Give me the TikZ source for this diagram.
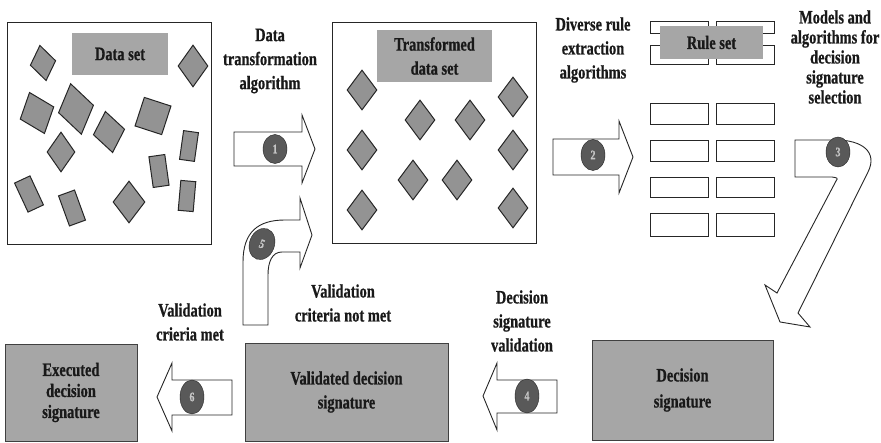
\documentclass[tikz,border=0pt]{standalone}
\usepackage{fontspec}
\newfontfamily\lbl[FakeStretch=0.76,FakeBold=0.7]{Liberation Serif}
\usetikzlibrary{shapes.geometric}
\begin{document}
\begin{tikzpicture}[x=1pt,y=-1pt,
  frame/.style={draw=black!85,line width=0.9pt},
  lab/.style={font=\lbl\bfseries\fontsize{19}{24}\selectfont,align=center,inner sep=0,text=black!90},
  tag/.style={lab,fill=gray!70},
  dia/.style={diamond,draw=black!85,fill=gray!85,line width=1pt,inner sep=0},
  tile/.style={rectangle,draw=black!85,fill=gray!85,line width=1pt,inner sep=0},
  barrow/.style={draw=black!85,line width=0.9pt,fill=white,line join=miter},
  num/.style={ellipse,draw=black!85,fill=black!65,text=gray!45,inner sep=0,font=\lbl\bfseries\fontsize{13}{13}\selectfont},
  rulebox/.style={draw=black!85,line width=0.9pt,fill=white,minimum width=58,inner sep=0}
]
\useasboundingbox (0,0) rectangle (881,443);

% ---- container 1
\node[frame,minimum width=204,minimum height=222] (box1) at (109,133) {};
\node[tag,minimum width=96,minimum height=42] (ds) at (120,54) {Data set};
\node[dia,minimum width=26,minimum height=36,rotate=10] (a1) at (43,63) {};
\node[dia,minimum width=30,minimum height=42] (a2) at (193,66) {};
\node[dia,minimum width=36,minimum height=44,rotate=20] (a3) at (37,113) {};
\node[dia,minimum width=36,minimum height=52,rotate=12] (a4) at (76,109) {};
\node[tile,minimum width=28,minimum height=30,rotate=-18] (a5) at (153,116) {};
\node[dia,minimum width=32,minimum height=42,rotate=10] (a6) at (109,132) {};
\node[dia,minimum width=28,minimum height=40] (a7) at (61,152) {};
\node[tile,minimum width=15,minimum height=29,rotate=-8] (a8) at (189,146) {};
\node[tile,minimum width=16,minimum height=31,rotate=8] (a9) at (159,171) {};
\node[tile,minimum width=17,minimum height=32,rotate=25] (a10) at (29,194) {};
\node[tile,minimum width=17,minimum height=32,rotate=20] (a11) at (72,208) {};
\node[dia,minimum width=32,minimum height=42] (a12) at (129,202) {};
\node[tile,minimum width=15,minimum height=30,rotate=-5] (a13) at (187,196) {};

% ---- container 2
\node[frame,minimum width=204,minimum height=221] (box2) at (434,132.5) {};
\node[tag,minimum width=115,minimum height=52] (tds) at (434.5,56) {Transformed\\data set};
\foreach \p/\q [count=\i] in {362/90,362/150,362/210,420/120,470/120,513/97,513/150,413/180,457/180,513/208}
  \node[dia,minimum width=30,minimum height=40] (b\i) at (\p,\q) {};

% ---- rule set
\foreach \c/\s in {679/L,745/R}{
  \node[rulebox,minimum height=12] (rA\s) at (\c,27) {};
  \node[rulebox,minimum height=19] (rB\s) at (\c,54.5) {};
  \node[rulebox,minimum height=21] (r1\s) at (\c,113.5) {};
  \node[rulebox,minimum height=21] (r2\s) at (\c,150.5) {};
  \node[rulebox,minimum height=20] (r3\s) at (\c,187) {};
  \node[rulebox,minimum height=23] (r4\s) at (\c,224.5) {};
}
\node[tag,minimum width=103,minimum height=33] (rs) at (711.5,42.5) {Rule set};

% ---- bottom boxes
\node[tag,draw=black!75,line width=0.9pt,minimum width=132,minimum height=97,font=\lbl\bfseries\fontsize{19}{21}\selectfont] (exe) at (71,392.5) {Executed\\decision\\signature};
\node[tag,draw=black!75,line width=0.9pt,minimum width=203,minimum height=98] (val) at (346.5,392) {Validated decision\\signature};
\node[tag,draw=black!75,line width=0.9pt,minimum width=181,minimum height=100,font=\lbl\bfseries\fontsize{19}{26}\selectfont] (dec) at (682.5,390) {Decision\\signature};

% ---- block arrows
\draw[barrow] (234,132) -- (302,132) -- (302,115) -- (315,149) -- (302,183) -- (302,166) -- (234,166) -- cycle;
\draw[barrow] (553,139) -- (619,139) -- (619,121) -- (633,157) -- (619,193) -- (619,175) -- (553,175) -- cycle;
\draw[barrow] (557,380) -- (497,380) -- (497,363) -- (483,396) -- (497,430) -- (497,413) -- (557,413) -- cycle;
\draw[barrow] (232,380) -- (172,380) -- (172,363) -- (157,397) -- (172,431) -- (172,415) -- (232,415) -- cycle;
\draw[barrow] (243,325) -- (243,262) .. controls (243,232) and (258,220) .. (285,220) -- (300,220) -- (300,198) -- (312,235) -- (300,268) -- (300,252) -- (282,252) .. controls (272,252) and (268,262) .. (268,275) -- (268,325) -- cycle;
\draw[barrow] (795,140) -- (836,140) .. controls (862,140) and (878,152) .. (868,172) -- (798,313) -- (810,327) -- (780,322) -- (765,285) -- (777,293) -- (836,181) .. controls (838,178) .. (832,177) -- (795,177) -- cycle;

% ---- numbered discs
\node[num,minimum width=24,minimum height=29] (n1) at (275,149) {1};
\node[num,minimum width=24,minimum height=31] (n2) at (593,155) {2};
\node[num,minimum width=24,minimum height=30] (n3) at (838,152) {3};
\node[num,minimum width=24,minimum height=34] (n4) at (527,396) {4};
\node[num,minimum width=25,minimum height=32,rotate=-20] (n5) at (262,244) {5};
\node[num,minimum width=24,minimum height=34] (n6) at (192,397) {6};

% ---- labels
\node[lab] (t1) at (270,61) {Data\\transformation\\algorithm};
\node[lab] (t2) at (593,50) {Diverse rule\\extraction\\algorithms};
\node[lab,font=\lbl\bfseries\fontsize{19}{20}\selectfont] (t3) at (835,57) {Models and\\algorithms for\\decision\\signature\\selection};
\node[lab] (t4) at (343,303) {Validation\\criteria not met};
\node[lab] (t5) at (190,322) {Validation\\crieria met};
\node[lab] (t6) at (522,321) {Decision\\signature\\validation};
\end{tikzpicture}
\end{document}
